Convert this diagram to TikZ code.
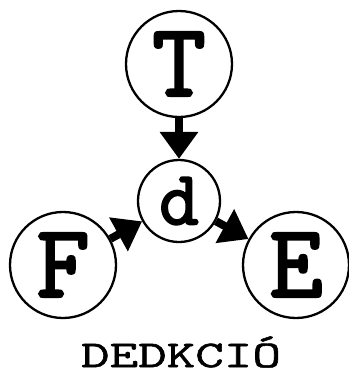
\documentclass[tikz,border=0pt]{standalone}
\usepackage{fontspec}
\usetikzlibrary{arrows.meta}
\newfontfamily\slab{Latin Modern Mono}[FakeBold=2.5]
\newfontfamily\slabcap{Latin Modern Mono}[FakeBold=1.2]
\begin{document}
\begin{tikzpicture}[x=1pt,y=-1pt,
  state/.style={circle,draw,line width=2.3pt,inner sep=0pt,minimum size=#1},
  bigletter/.style={font=\slab\fontsize{104}{104}\selectfont},
  link/.style={line width=8pt,-{Triangle[width=37pt,length=27pt]}}]
\useasboundingbox (0,0) rectangle (349,376);
% the four circles
\node[state=106pt,bigletter] (T) at (179,64) {T};
\node[state=82pt,font=\slab\fontsize{77}{77}\selectfont] (d) at (179,201) {d};
\node[state=106pt,bigletter] (F) at (63,265) {F};
\node[state=106pt,bigletter] (E) at (296,265) {E};
% connectors
\draw[link] (T) -- (d);
\draw[link] (F) -- (d);
\draw[link] (d) -- (E);
% caption
\node[font=\slabcap\fontsize{38}{38}\selectfont,xscale=1.46] (caption) at (181,352) {DEDKCIÓ};
\end{tikzpicture}
\end{document}
